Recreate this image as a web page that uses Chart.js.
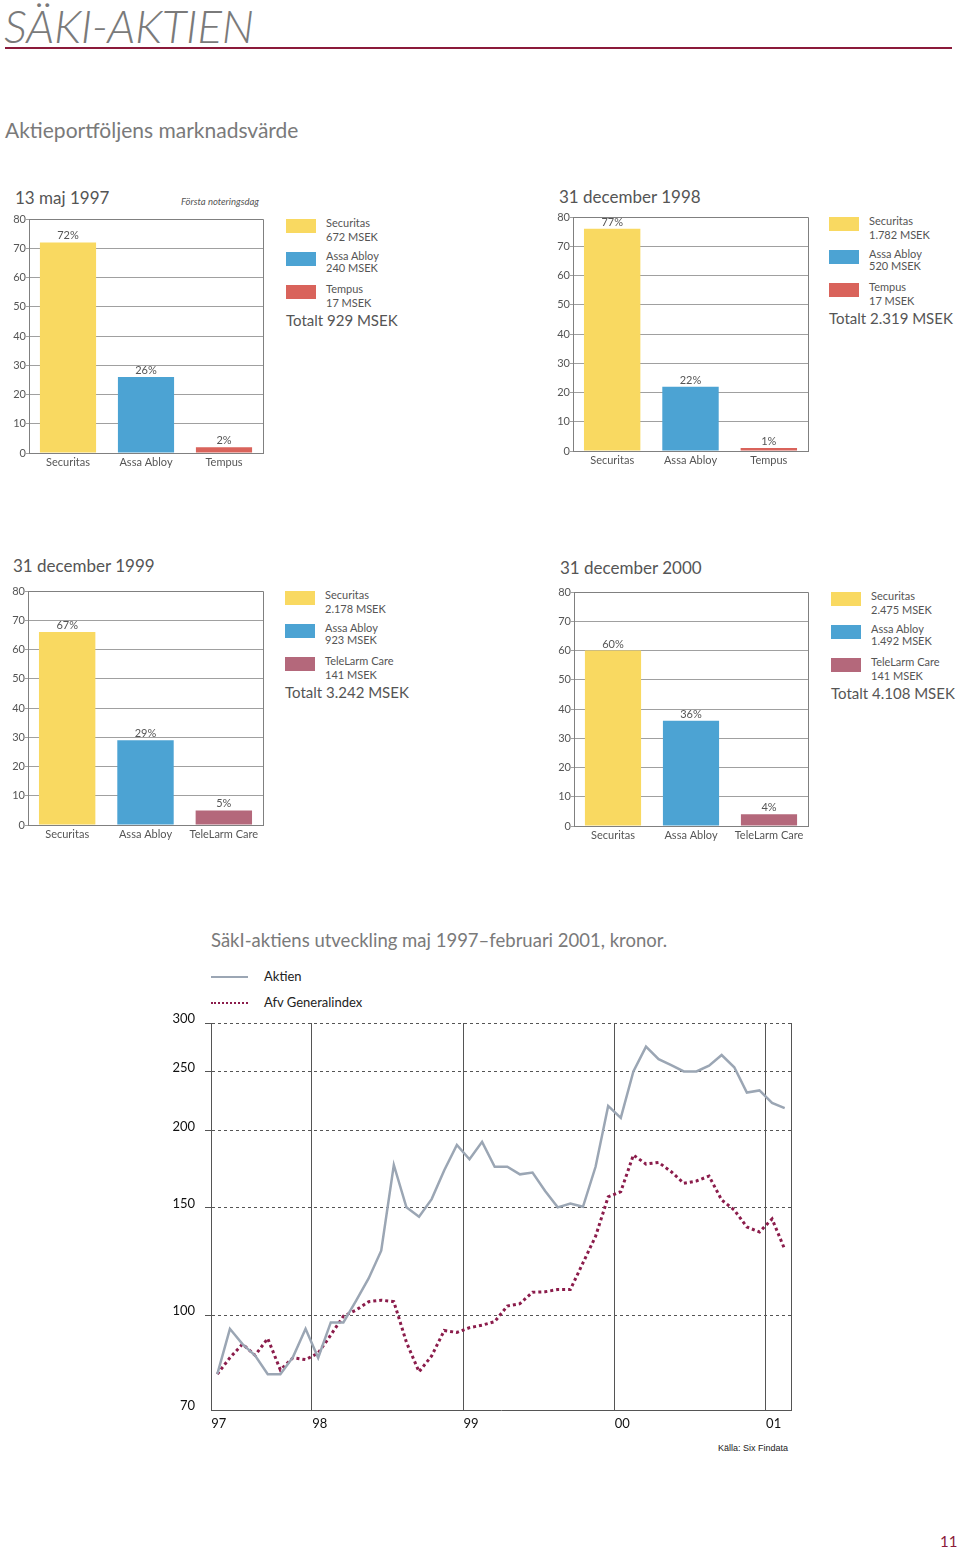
<!DOCTYPE html>
<html>
<head>
<meta charset="utf-8">
<title>SÄKI-AKTIEN</title>
<script src="https://cdn.jsdelivr.net/npm/chart.js@4.4.1/dist/chart.umd.min.js"></script>
<style>
    body { margin: 0; background: #fff; font-family: Lato, "Open Sans", sans-serif; }
    #page { position: relative; width: 960px; height: 1550px; overflow: hidden; background: #fff; }
    .abs { position: absolute; white-space: nowrap; line-height: 1; }
    canvas { position: absolute; }
    .pageTitle { left: 4px; top: 3px; font-size: 46px; font-weight: 300; font-style: italic; color: #7a7a7a; letter-spacing: -0.3px; }
    .rule { position: absolute; left: 5px; top: 47px; width: 947px; height: 2px; background: #8b1a3a; }
    .subTitle { left: 5px; top: 119px; font-size: 21px; color: #7a7a7a; }
    .panelTitle { font-size: 17px; color: #555; }
    .note { font-size: 9.5px; font-style: italic; color: #555; }
    .legBox { position: absolute; width: 30px; height: 14px; }
    .legText { font-size: 11px; color: #555; }
    .total { font-size: 15px; color: #555; }
    .lineTitle { left: 211px; top: 931px; font-size: 18.5px; color: #7a7a7a; }
    .lineLeg { font-size: 13px; color: #222; }
    .source { left: 718px; top: 1444px; font-family: "Liberation Sans", Arial, sans-serif; font-size: 9px; color: #222; }
    .pageNo { left: 940px; top: 1534px; font-size: 15px; color: #8b1a3a; }
</style>
</head>
<body>
<div id="page">
    <div class="abs pageTitle">SÄKI-AKTIEN</div>
    <div class="rule"></div>
    <div class="abs subTitle">Aktieportföljens marknadsvärde</div>

    <div class="abs panelTitle" style="left:15px; top:189px;">13 maj 1997</div>
    <div class="abs note" style="left:181px; top:197px;">Första noteringsdag</div>
    <div class="abs panelTitle" style="left:559px; top:188px;">31 december 1998</div>
    <div class="abs panelTitle" style="left:13px; top:557px;">31 december 1999</div>
    <div class="abs panelTitle" style="left:560px; top:559px;">31 december 2000</div>

    <canvas id="bar1997" width="270" height="270" style="left:0px; top:205px;"></canvas>
    <canvas id="bar1998" width="271" height="270" style="left:544px; top:203px;"></canvas>
    <canvas id="bar1999" width="270" height="270" style="left:0px; top:577px;"></canvas>
    <canvas id="bar2000" width="270" height="270" style="left:545px; top:578px;"></canvas>

    <div class="abs lineTitle">SäkI-aktiens utveckling maj 1997–februari 2001, kronor.</div>
    <div style="position:absolute; left:211px; top:976px; width:37px; border-top:2px solid #9ba6b4;"></div>
    <div class="abs lineLeg" style="left:264px; top:970px;">Aktien</div>
    <div style="position:absolute; left:211px; top:1002px; width:37px; border-top:2px dotted #8b1c4b;"></div>
    <div class="abs lineLeg" style="left:264px; top:996px;">Afv Generalindex</div>
    <canvas id="kursChart" width="650" height="440" style="left:160px; top:1000px;"></canvas>
    <div class="abs source">Källa: Six Findata</div>

    <div class="abs pageNo">11</div>
</div>

<script>
// ---- Data: market value of the share portfolio ----
const companies9798 = ['Securitas', 'Assa Abloy', 'Tempus'];
const companies9900 = ['Securitas', 'Assa Abloy', 'TeleLarm Care'];

// bar heights (percent of portfolio)
const share1997 = [72, 26, 2];
const share1998 = [76, 22, 1];
const share1999 = [66, 29, 5];
const share2000 = [60, 36, 4];

// printed labels above the bars
const pctText1997 = ['72%', '26%', '2%'];
const pctText1998 = ['77%', '22%', '1%'];
const pctText1999 = ['67%', '29%', '5%'];
const pctText2000 = ['60%', '36%', '4%'];

const msek1997 = ['672 MSEK', '240 MSEK', '17 MSEK'];
const msek1998 = ['1.782 MSEK', '520 MSEK', '17 MSEK'];
const msek1999 = ['2.178 MSEK', '923 MSEK', '141 MSEK'];
const msek2000 = ['2.475 MSEK', '1.492 MSEK', '141 MSEK'];

const total1997 = 'Totalt 929 MSEK';
const total1998 = 'Totalt 2.319 MSEK';
const total1999 = 'Totalt 3.242 MSEK';
const total2000 = 'Totalt 4.108 MSEK';

const shareTicks = [0, 10, 20, 30, 40, 50, 60, 70, 80];

// ---- Data: share price vs general index, monthly May 1997 - Feb 2001 ----
const months = [
    '1997-05', '1997-06', '1997-07', '1997-08', '1997-09', '1997-10', '1997-11', '1997-12',
    '1998-01', '1998-02', '1998-03', '1998-04', '1998-05', '1998-06', '1998-07', '1998-08',
    '1998-09', '1998-10', '1998-11', '1998-12',
    '1999-01', '1999-02', '1999-03', '1999-04', '1999-05', '1999-06', '1999-07', '1999-08',
    '1999-09', '1999-10', '1999-11', '1999-12',
    '2000-01', '2000-02', '2000-03', '2000-04', '2000-05', '2000-06', '2000-07', '2000-08',
    '2000-09', '2000-10', '2000-11', '2000-12',
    '2001-01', '2001-02'
];
const aktien = [
    80.1, 95.0, 89.7, 85.9, 80.1, 80.1, 85.4, 95.0,
    85.2, 97.3, 97.3, 105.5, 114.8, 127.4, 175.9, 150.0,
    144.8, 154.7, 172.5, 189.6,
    179.7, 191.9, 174.7, 174.7, 169.8, 171.0, 159.5, 150.0,
    152.2, 150.3, 174.7, 219.6,
    210.0, 250.0, 274.5, 261.9, 256.0, 250.0, 250.0, 255.5,
    266.0, 254.0, 231.0, 232.8,
    222.2, 217.8
];
const generalindex = [
    80.1, 85.2, 89.7, 86.0, 91.6, 81.4, 85.2, 84.6,
    86.7, 92.8, 99.6, 101.9, 105.2, 105.8, 105.2, 90.3,
    80.8, 85.8, 94.4, 93.7,
    95.4, 96.3, 97.6, 103.5, 104.4, 109.0, 109.2, 110.1,
    110.1, 121.7, 134.5, 156.0,
    159.1, 182.6, 176.5, 177.6, 171.5, 164.2, 165.6, 168.7,
    154.2, 148.5, 139.3, 136.7,
    143.6, 128.1
];
const kursTicks = [70, 100, 150, 200, 250, 300];

// ---- Colours ----
const colors9798 = ['#f9d961', '#4ca3d3', '#d9635b'];
const colors9900 = ['#f9d961', '#4ca3d3', '#b4687b'];

Chart.defaults.font.family = "Lato, 'Open Sans', sans-serif";
Chart.defaults.color = '#555';

// draws the percent text above each bar
const barLabels = {
    id: 'barLabels',
    afterDatasetsDraw(chart, args, opts) {
        const ctx = chart.ctx;
        ctx.save();
        ctx.font = '11px Lato, sans-serif';
        ctx.fillStyle = '#555';
        ctx.textAlign = 'center';
        ctx.textBaseline = 'bottom';
        chart.getDatasetMeta(0).data.forEach((bar, i) => {
            ctx.fillText(opts.texts[i], bar.x, bar.y - 1);
        });
        ctx.restore();
    }
};

// box round the plot area
const frame = {
    id: 'frame',
    beforeDatasetsDraw(chart, args, opts) {
        const a = chart.chartArea;
        const ctx = chart.ctx;
        ctx.save();
        ctx.strokeStyle = opts.color || '#777';
        ctx.lineWidth = 1;
        ctx.beginPath();
        if (opts.rightOnly) {
            ctx.moveTo(Math.round(a.right) + 0.5, a.top);
            ctx.lineTo(Math.round(a.right) + 0.5, a.bottom);
        } else {
            ctx.rect(Math.round(a.left) + 0.5, Math.round(a.top) + 0.5,
                Math.round(a.right - a.left), Math.round(a.bottom - a.top));
        }
        ctx.stroke();
        ctx.restore();
    }
};

function makeBarChart(canvasId, categories, values, pctTexts, colors, yWidth) {
    new Chart(document.getElementById(canvasId), {
        type: 'bar',
        data: {
            labels: categories,
            datasets: [{
                data: values,
                backgroundColor: colors,
                barPercentage: 0.72,
                categoryPercentage: 1.0
            }]
        },
        options: {
            responsive: false,
            animation: false,
            layout: { padding: { top: 14, right: 7, left: 0, bottom: 0 } },
            plugins: {
                legend: { display: false },
                tooltip: { enabled: false },
                barLabels: { texts: pctTexts },
                frame: { color: '#808080' }
            },
            scales: {
                x: {
                    grid: { display: false, drawTicks: false },
                    border: { color: '#808080' },
                    ticks: { color: '#555', font: { size: 11 }, padding: 3 },
                    afterFit: scale => { scale.height = 22; }
                },
                y: {
                    min: 0,
                    max: 80,
                    afterBuildTicks: scale => { scale.ticks = shareTicks.map(v => ({ value: v })); },
                    grid: { color: '#a0a0a0', tickLength: 3 },
                    border: { color: '#808080' },
                    ticks: { color: '#555', font: { size: 11 }, padding: 0 },
                    afterFit: scale => { scale.width = yWidth; }
                }
            }
        },
        plugins: [barLabels, frame]
    });
}

function makeLegend(left, top, categories, msek, colors, total) {
    const page = document.getElementById('page');
    const lineGap = [14, 11.5, 14];
    categories.forEach((name, i) => {
        const boxTop = top + i * 33;
        const box = document.createElement('div');
        box.className = 'legBox';
        box.style.left = left + 'px';
        box.style.top = boxTop + 'px';
        box.style.background = colors[i];
        page.appendChild(box);

        const t1 = document.createElement('div');
        t1.className = 'abs legText';
        t1.style.left = (left + 40) + 'px';
        t1.style.top = (boxTop - 2) + 'px';
        t1.textContent = name;
        page.appendChild(t1);

        const t2 = document.createElement('div');
        t2.className = 'abs legText';
        t2.style.left = (left + 40) + 'px';
        t2.style.top = (boxTop - 2 + lineGap[i]) + 'px';
        t2.textContent = msek[i];
        page.appendChild(t2);
    });
    const tot = document.createElement('div');
    tot.className = 'abs total';
    tot.style.left = left + 'px';
    tot.style.top = (top + 94) + 'px';
    tot.textContent = total;
    page.appendChild(tot);
}

makeBarChart('bar1997', companies9798, share1997, pctText1997, colors9798, 29);
makeBarChart('bar1998', companies9798, share1998, pctText1998, colors9798, 29);
makeBarChart('bar1999', companies9900, share1999, pctText1999, colors9900, 28);
makeBarChart('bar2000', companies9900, share2000, pctText2000, colors9900, 29);

makeLegend(286, 219, companies9798, msek1997, colors9798, total1997);
makeLegend(829, 217, companies9798, msek1998, colors9798, total1998);
makeLegend(285, 591, companies9900, msek1999, colors9900, total1999);
makeLegend(831, 592, companies9900, msek2000, colors9900, total2000);

// ---- Share price chart ----
const isJanuary = i => months[i] !== undefined && months[i].endsWith('-01');

new Chart(document.getElementById('kursChart'), {
    type: 'line',
    data: {
        labels: months,
        datasets: [
            {
                label: 'Aktien',
                data: aktien,
                borderColor: '#9ba6b4',
                borderWidth: 2.5,
                pointRadius: 0,
                tension: 0
            },
            {
                label: 'Afv Generalindex',
                data: generalindex,
                borderColor: '#8b1c4b',
                borderWidth: 3,
                borderDash: [3, 3],
                pointRadius: 0,
                tension: 0
            }
        ]
    },
    options: {
        responsive: false,
        animation: false,
        layout: { padding: { top: 23, right: 19, left: 0, bottom: 0 } },
        plugins: {
            legend: { display: false },
            tooltip: { enabled: false },
            frame: { rightOnly: true, color: '#555' }
        },
        scales: {
            x: {
                type: 'category',
                offset: true,
                grid: {
                    offset: true,
                    drawTicks: false,
                    color: ctx => isJanuary(ctx.index) ? '#555' : 'rgba(0,0,0,0)'
                },
                border: { color: '#555' },
                ticks: {
                    autoSkip: false,
                    maxRotation: 0,
                    align: 'start',
                    labelOffset: -6,
                    padding: 6,
                    color: '#111',
                    font: { size: 13 },
                    callback: (value, i) => (i === 0 || isJanuary(i)) ? months[i].slice(2, 4) : ''
                },
                afterFit: scale => { scale.height = 30; }
            },
            y: {
                type: 'logarithmic',
                min: 70,
                max: 300,
                afterBuildTicks: scale => { scale.ticks = kursTicks.map(v => ({ value: v })); },
                grid: {
                    color: ctx => (ctx.tick && ctx.tick.value === 70) ? 'rgba(0,0,0,0)' : '#555',
                    tickLength: 6
                },
                border: { color: '#555', dash: [3, 3] },
                ticks: {
                    color: '#111',
                    font: { size: 13 },
                    padding: 10,
                    labelOffset: -4,
                    callback: value => String(value)
                },
                afterFit: scale => { scale.width = 51; }
            }
        }
    },
    plugins: [frame]
});
</script>
</body>
</html>
